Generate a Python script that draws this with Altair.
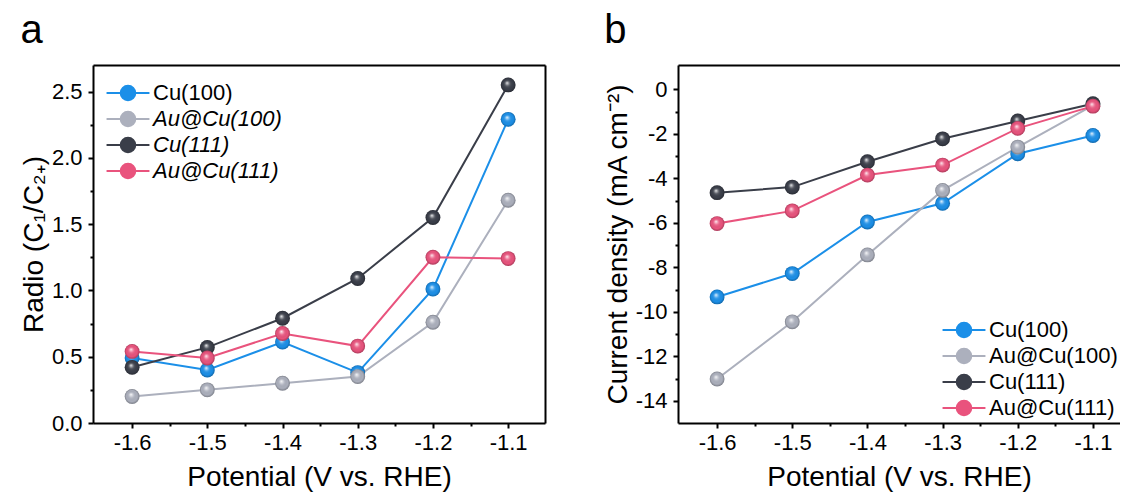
import altair as alt
import pandas as pd

FONT = "Liberation Sans"

potential = [-1.6, -1.5, -1.4, -1.3, -1.2, -1.1]
series_names = ["Cu(100)", "Au@Cu(100)", "Cu(111)", "Au@Cu(111)"]
colors = ["#1b8fe8", "#acb0bd", "#3a3e49", "#e9537d"]

# panel a: ratio C1/C2+
ratio_cu100 = [0.49, 0.40, 0.61, 0.38, 1.01, 2.29]
ratio_aucu100 = [0.20, 0.25, 0.30, 0.35, 0.76, 1.68]
ratio_cu111 = [0.42, 0.57, 0.79, 1.09, 1.55, 2.55]
ratio_aucu111 = [0.54, 0.49, 0.675, 0.58, 1.25, 1.24]

# panel b: current density (mA cm-2)
cd_cu100 = [-9.33, -8.28, -5.96, -5.12, -2.89, -2.07]
cd_aucu100 = [-13.02, -10.45, -7.44, -4.54, -2.59, -0.72]
cd_cu111 = [-4.64, -4.39, -3.25, -2.22, -1.42, -0.64]
cd_aucu111 = [-6.03, -5.46, -3.85, -3.40, -1.75, -0.75]

x_minor = [-1.55, -1.45, -1.35, -1.25, -1.15]
ya_major = [0.0, 0.5, 1.0, 1.5, 2.0, 2.5]
ya_minor = [0.25, 0.75, 1.25, 1.75, 2.25]
yb_major = [0, -2, -4, -6, -8, -10, -12, -14]
yb_minor = [-1, -3, -5, -7, -9, -11, -13]


def make_df(vals):
    rows = []
    for i, (name, ys) in enumerate(zip(series_names, vals)):
        for p, v in zip(potential, ys):
            rows.append({"potential": p, "value": v, "series": name, "k": i})
    return pd.DataFrame(rows)


df_a = make_df([ratio_cu100, ratio_aucu100, ratio_cu111, ratio_aucu111])
df_b = make_df([cd_cu100, cd_aucu100, cd_cu111, cd_aucu111])

color_scale = alt.Scale(domain=series_names, range=colors)
SYMBOL = "M-1.65,0H-0.56M0.56,0H1.65M-0.56,0A0.56,0.56,0,1,1,0.56,0A0.56,0.56,0,1,1,-0.56,0Z"
FIX = "replace(datum.label, '\u2212', '-')"

highlight = alt.RadialGradient(
    gradient="radial",
    x1=0.42, y1=0.36, r1=0,
    x2=0.5, y2=0.5, r2=0.5,
    stops=[
        alt.GradientStop(offset=0, color="rgba(255,255,255,0.9)"),
        alt.GradientStop(offset=0.35, color="rgba(255,255,255,0.15)"),
        alt.GradientStop(offset=0.75, color="rgba(0,0,0,0)"),
        alt.GradientStop(offset=1, color="rgba(0,0,0,0.28)"),
    ],
)


def base_axis(**kw):
    d = dict(grid=False, domainColor="black", domainWidth=2, tickColor="black",
             tickWidth=2, labelFont=FONT, labelColor="black", titleFont=FONT,
             titleColor="black", titleFontWeight="normal")
    d.update(kw)
    return alt.Axis(**d)


def panel(df, letter, xdomain, width, ydomain, ymajor, yminor, yfmt, ytitle,
          legend_x, legend_y, italic, right):
    xs = alt.Scale(domain=xdomain, nice=False, zero=False)
    ys = alt.Scale(domain=ydomain, nice=False, zero=False)

    x_main = base_axis(values=potential, format=".1f", labelExpr=FIX, orient="bottom",
                       title="Potential (V vs. RHE)", tickSize=5, labelFontSize=22,
                       labelPadding=4, labelOverlap=False, labelFlush=False,
                       titleFontSize=28, titlePadding=10)
    y_main = base_axis(values=ymajor, format=yfmt, labelExpr=FIX, orient="left",
                       title=ytitle, tickSize=5, labelFontSize=22, labelPadding=6,
                       labelOverlap=False, labelFlush=False, titleFontSize=28,
                       titlePadding=3)
    x_top = base_axis(orient="top", ticks=False, labels=False, title=None)
    y_right = base_axis(orient="right", ticks=False, labels=False, title=None)
    x_min = base_axis(orient="bottom", values=x_minor, domain=False, labels=False,
                      tickSize=3, title=None)
    y_min = base_axis(orient="left", values=yminor, domain=False, labels=False,
                      tickSize=3, title=None)

    leg = dict(orient="none", legendX=legend_x, legendY=legend_y, title=None,
               symbolType=SYMBOL, symbolSize=676, symbolStrokeWidth=2,
               labelFont=FONT, labelFontSize=22, labelColor="black",
               labelOffset=11, rowPadding=0, padding=0)
    if italic:
        leg["labelFontStyle"] = alt.ExprRef(expr="datum.label == 'Cu(100)' ? 'normal' : 'italic'")
    legend = alt.Legend(**leg)
    color = alt.Color("series:N", scale=color_scale, sort=series_names, legend=legend)

    lines = alt.Chart(df).mark_line(strokeWidth=2).encode(
        x=alt.X("potential:Q", scale=xs, axis=x_main),
        y=alt.Y("value:Q", scale=ys, axis=y_main),
        color=color,
    )
    layers = [lines]
    for i, name in enumerate(series_names):
        if i == 0:
            xa, ya = x_top, (y_right if right else None)
            xh, yh = x_min, y_min
        else:
            xa, ya, xh, yh = None, None, None, None
        pts = alt.Chart(df).transform_filter(alt.datum.series == name).mark_circle(
            size=220, opacity=1).encode(
            x=alt.X("potential:Q", scale=xs, axis=xa),
            y=alt.Y("value:Q", scale=ys, axis=ya),
            color=color,
        )
        hl = alt.Chart(df).transform_filter(alt.datum.series == name).mark_circle(
            size=220, opacity=1, fill=highlight).encode(
            x=alt.X("potential:Q", scale=xs, axis=xh),
            y=alt.Y("value:Q", scale=ys, axis=yh),
        )
        layers += [pts, hl]

    return alt.layer(*layers).resolve_axis(x="independent", y="independent").properties(
        width=width, height=358,
        title=alt.TitleParams(letter, anchor="start", frame="bounds", fontSize=40,
                              font=FONT, fontWeight="normal", color="black", offset=14),
    )


pa = panel(df_a, "a", [-1.652, -1.051], 452, [0, 2.7], ya_major, ya_minor, ".1f",
           "Radio (C\u2081/C\u2082\u208a)", 21, 14, True, True)
pb = panel(df_b, "b", [-1.652, -1.064], 442, [-15, 1.1], yb_major, yb_minor, "d",
           "Current density (mA cm\u207b\u00b2)", 272, 251, False, False)

chart = alt.hconcat(pa, pb, spacing=133, bounds="flush").resolve_scale(
    color="independent").resolve_legend(color="independent").properties(
    padding={"left": 20, "top": 11, "right": 0, "bottom": 1}
).configure_view(stroke=None)

chart.save("out.html", embed_options={"renderer": "svg", "actions": False})
